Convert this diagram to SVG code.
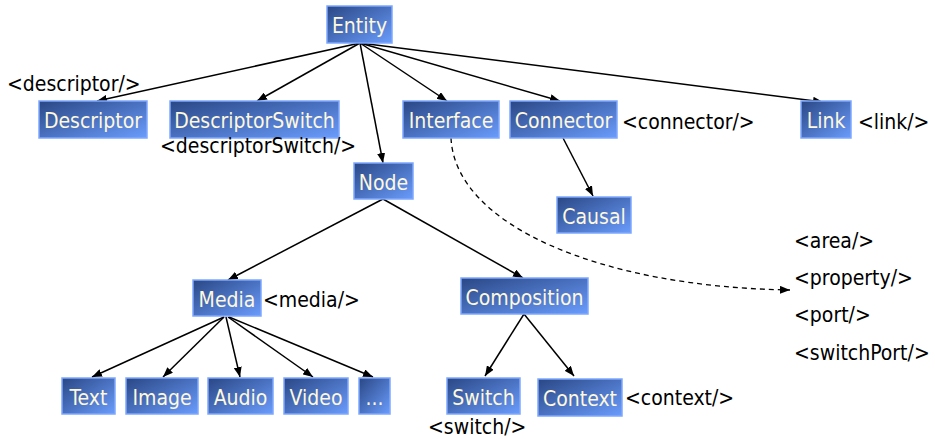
<svg xmlns="http://www.w3.org/2000/svg" width="935" height="439" viewBox="0 0 935 439">
<defs>
<linearGradient id="g" x1="0" y1="0" x2="1" y2="1">
<stop offset="0" stop-color="#2A4785"/>
<stop offset="1" stop-color="#6A9CFC"/>
</linearGradient>
<marker id="a" viewBox="0 0 10 8" refX="10" refY="4" markerWidth="10" markerHeight="8" markerUnits="userSpaceOnUse" orient="auto">
<path d="M0,0 L10,4 L0,8 Z" fill="#000"/>
</marker>
<style>
.b{fill:url(#g);stroke:#7EA8FF;stroke-width:1.5}
.t{font-family:"DejaVu Sans Condensed","DejaVu Sans",sans-serif;font-stretch:condensed;font-size:21px;fill:#FFF8DC;text-anchor:middle}
.l{font-family:"DejaVu Sans Condensed","DejaVu Sans",sans-serif;font-stretch:condensed;font-size:21px;fill:#000}
.c{stroke:#000;stroke-width:1.5;fill:none;marker-end:url(#a)}
.d{stroke:#000;stroke-width:1.3;fill:none;stroke-dasharray:5,4;marker-end:url(#a)}
</style>
</defs>
<g id="connectors">
<path class="c" d="M360,43 L97,101"/>
<path class="c" d="M360,43 L257,101"/>
<path class="c" d="M360,43 L383,163"/>
<path class="c" d="M360,43 L447,101"/>
<path class="c" d="M360,43 L560,101"/>
<path class="c" d="M360,43 L823,102"/>
<path class="c" d="M563,138 L593,196"/>
<path class="c" d="M383,199 L228,280"/>
<path class="c" d="M383,199 L523,278"/>
<path class="c" d="M224,317 L92,377"/>
<path class="c" d="M224,317 L163,377"/>
<path class="c" d="M226,317 L240,377"/>
<path class="c" d="M228,317 L313,377"/>
<path class="c" d="M229,317 L373,377"/>
<path class="c" d="M524,314 L485,376"/>
<path class="c" d="M524,314 L574,376"/>
<path class="d" d="M451,138 C455,225 600,287 790,290"/>
</g>
<g id="entity"><rect class="b" x="327" y="6" width="65" height="37"/><text class="t" x="359.5" y="33">Entity</text></g>
<g id="descriptor"><rect class="b" x="39" y="101" width="108" height="37"/><text class="t" x="93" y="128">Descriptor</text><text class="l" x="7" y="91">&lt;descriptor/&gt;</text></g>
<g id="descriptorSwitch"><rect class="b" x="170" y="101" width="169" height="37"/><text class="t" x="254.5" y="128">DescriptorSwitch</text><text class="l" x="160" y="153">&lt;descriptorSwitch/&gt;</text></g>
<g id="interface"><rect class="b" x="403" y="101" width="96" height="37"/><text class="t" x="451" y="128">Interface</text></g>
<g id="connector"><rect class="b" x="510" y="101" width="107" height="37"/><text class="t" x="563.5" y="128">Connector</text><text class="l" x="622" y="129">&lt;connector/&gt;</text></g>
<g id="link"><rect class="b" x="801" y="101" width="50" height="37"/><text class="t" x="826" y="128">Link</text><text class="l" x="858" y="129">&lt;link/&gt;</text></g>
<g id="causal"><rect class="b" x="557" y="197" width="74" height="36"/><text class="t" x="594" y="224">Causal</text></g>
<g id="node"><rect class="b" x="354" y="163" width="59" height="36"/><text class="t" x="383.5" y="190">Node</text></g>
<g id="media"><rect class="b" x="193" y="280" width="68" height="36"/><text class="t" x="227" y="307">Media</text><text class="l" x="263" y="307">&lt;media/&gt;</text></g>
<g id="composition"><rect class="b" x="461" y="278" width="127" height="36"/><text class="t" x="524.5" y="305">Composition</text></g>
<g id="text"><rect class="b" x="62" y="378" width="53" height="36"/><text class="t" x="88.5" y="405">Text</text></g>
<g id="image"><rect class="b" x="126" y="378" width="72" height="36"/><text class="t" x="162" y="405">Image</text></g>
<g id="audio"><rect class="b" x="208" y="378" width="65" height="36"/><text class="t" x="240.5" y="405">Audio</text></g>
<g id="video"><rect class="b" x="284" y="378" width="64" height="36"/><text class="t" x="316" y="405">Video</text></g>
<g id="more"><rect class="b" x="359" y="378" width="31" height="36"/><text class="t" x="374.5" y="405">...</text></g>
<g id="switch"><rect class="b" x="447" y="378" width="73" height="36"/><text class="t" x="483.5" y="405">Switch</text><text class="l" x="428" y="434">&lt;switch/&gt;</text></g>
<g id="context"><rect class="b" x="538" y="379" width="84" height="37"/><text class="t" x="580" y="406">Context</text><text class="l" x="625" y="405">&lt;context/&gt;</text></g>
<g id="interfaceTypes">
<text class="l" x="794" y="248">&lt;area/&gt;</text>
<text class="l" x="794" y="285">&lt;property/&gt;</text>
<text class="l" x="794" y="322">&lt;port/&gt;</text>
<text class="l" x="794" y="360">&lt;switchPort/&gt;</text>
</g>
</svg>
